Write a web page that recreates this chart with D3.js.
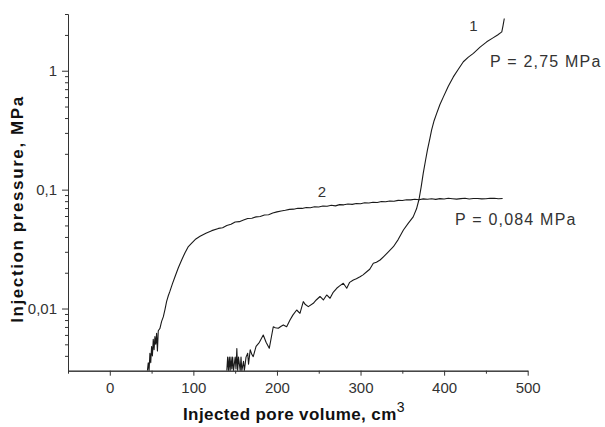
<!DOCTYPE html>
<html>
<head>
<meta charset="utf-8">
<script src="https://cdn.jsdelivr.net/npm/d3@7"></script>
<style>
  html, body { margin: 0; padding: 0; background: #fff; }
  svg { display: block; font-family: "Liberation Sans", Arial, sans-serif; }
  .tick text { fill: #333; font-size: 15px; }
  .axis path, .axis line { stroke: #333; }
</style>
</head>
<body>
<svg id="chart" width="605" height="427"></svg>
<script>
// injected volume (cm3) / injection pressure (MPa)
const curve1 = [
  [140, 0.003], [141, 0.0039], [142, 0.003], [143, 0.0039], [144, 0.003], [145, 0.0039],
  [146, 0.0031], [147, 0.0039], [148, 0.003], [150, 0.0039], [151, 0.0031], [152, 0.0046],
  [153, 0.003], [154, 0.0039], [156, 0.003], [157, 0.0039], [158, 0.003], [160, 0.0036],
  [161, 0.003], [163, 0.0039], [165, 0.0042], [166, 0.0034], [168, 0.0045], [170, 0.0041],
  [171.6, 0.00394], [175, 0.0048], [179, 0.0052], [183.6, 0.00599], [187, 0.0052],
  [190.8, 0.00463], [195.6, 0.00703], [198, 0.0069], [201.6, 0.00682], [205, 0.0071],
  [207.6, 0.00728], [211.6, 0.00703], [215.6, 0.0080], [219, 0.0088], [223.6, 0.00972],
  [227.5, 0.00912], [231.5, 0.01142], [234, 0.0108], [237.5, 0.01037], [243.5, 0.01107],
  [247, 0.0118], [251.5, 0.01263], [255.5, 0.0118], [259.5, 0.0130], [263.5, 0.0122],
  [267, 0.0136], [271.5, 0.0148], [275, 0.0155], [279.4, 0.0163], [283.5, 0.0148],
  [287, 0.0166], [291.4, 0.0174], [295, 0.0178], [299.4, 0.0185], [303, 0.0192],
  [307.4, 0.0204], [311, 0.0214], [315.3, 0.0240], [319, 0.0245], [323.4, 0.0256],
  [328, 0.0275], [333, 0.0298], [339.3, 0.0331], [345, 0.038], [351.3, 0.0458],
  [357, 0.052], [363, 0.059], [367, 0.069], [370, 0.083], [372.5, 0.105], [375, 0.137],
  [378, 0.18], [380, 0.215], [383, 0.27], [385, 0.316], [388, 0.38], [391, 0.436],
  [395, 0.52], [399, 0.60], [405, 0.74], [411, 0.887], [417, 1.03], [423, 1.19],
  [429, 1.30], [435, 1.40], [443, 1.58], [451, 1.75], [458, 1.88], [464, 2.0],
  [469, 2.12], [470.5, 2.4], [472, 2.75]
];

const curve2 = [
  [45, 0.003], [46, 0.0035], [47, 0.003], [48, 0.0042], [49, 0.0035], [50, 0.0048],
  [51, 0.004], [52, 0.0055], [53, 0.0045], [54, 0.0058], [55, 0.005], [56, 0.0062],
  [57, 0.0044], [58, 0.0065], [60, 0.0068], [62, 0.0078], [64, 0.0085], [66, 0.0098],
  [68, 0.0115], [70, 0.0128], [72, 0.014], [75, 0.0162], [78, 0.0185], [82, 0.022],
  [86, 0.0256], [90, 0.0295], [94, 0.0332], [98, 0.0355], [103, 0.0385], [108, 0.0405],
  [115, 0.043], [122, 0.0452], [130, 0.0472], [135, 0.0478], [140, 0.050], [145, 0.0512],
  [150, 0.0535], [155, 0.0538], [160, 0.0555], [165, 0.0572], [170, 0.0575], [175, 0.059],
  [180, 0.0595], [185, 0.0612], [190, 0.0615], [195, 0.0635], [200, 0.065], [205, 0.0662],
  [210, 0.067], [215, 0.0682], [220, 0.0685], [225, 0.0698], [230, 0.0695], [235, 0.0708],
  [240, 0.0705], [245, 0.0718], [250, 0.0715], [255, 0.0728], [260, 0.0725], [265, 0.0738],
  [270, 0.073], [275, 0.0748], [280, 0.0745], [285, 0.0758], [290, 0.0752], [295, 0.0765],
  [300, 0.076], [305, 0.0775], [310, 0.0772], [315, 0.0784], [320, 0.078], [325, 0.0795],
  [330, 0.079], [335, 0.0802], [340, 0.0798], [345, 0.0812], [350, 0.081], [355, 0.0822],
  [360, 0.082], [365, 0.083], [370, 0.0822], [375, 0.0836], [380, 0.083], [385, 0.0838],
  [390, 0.0828], [395, 0.084], [400, 0.0835], [405, 0.0845], [410, 0.0838], [415, 0.0832],
  [420, 0.084], [425, 0.0846], [430, 0.0835], [435, 0.0843], [440, 0.0842], [445, 0.0836],
  [450, 0.0838], [455, 0.0846], [460, 0.0845], [465, 0.0838], [470, 0.0842]
];

const xMajor = [0, 100, 200, 300, 400, 500];
const xMinor = [-50, 50, 150, 250, 350, 450];
const yMajor = [0.01, 0.1, 1];
const yMajorLabels = ["0,01", "0,1", "1"];
const yMinor = [0.004, 0.005, 0.006, 0.007, 0.008, 0.009,
  0.02, 0.03, 0.04, 0.05, 0.06, 0.07, 0.08, 0.09,
  0.2, 0.3, 0.4, 0.5, 0.6, 0.7, 0.8, 0.9, 2, 3];

const svg = d3.select("#chart");
const x = d3.scaleLinear().domain([-50, 500]).range([68, 527.7]);
const y = d3.scaleLog().domain([0.003, 3]).range([370.7, 14]);

svg.append("defs").append("clipPath").attr("id", "plot")
  .append("rect").attr("x", 68).attr("y", 0).attr("width", 470).attr("height", 370.7);

// axes: minor ticks first, then labelled majors on top
const xAxisY = y.range()[0];
svg.append("g").attr("class", "axis").attr("transform", `translate(0,${xAxisY})`)
  .call(d3.axisBottom(x).tickValues(xMinor).tickSize(3).tickSizeOuter(0).tickFormat(""));
svg.append("g").attr("class", "axis").attr("transform", `translate(0,${xAxisY})`)
  .call(d3.axisBottom(x).tickValues(xMajor).tickSize(5).tickSizeOuter(0).tickPadding(7))
  .call((g) => g.selectAll("text").attr("dy", "0.71em"));

const yAxisX = x.range()[0];
svg.append("g").attr("class", "axis").attr("transform", `translate(${yAxisX},0)`)
  .call(d3.axisLeft(y).tickValues(yMinor).tickSize(3).tickSizeOuter(0).tickFormat(""));
svg.append("g").attr("class", "axis").attr("transform", `translate(${yAxisX},0)`)
  .call(d3.axisLeft(y).tickValues(yMajor).tickSize(6).tickSizeOuter(0).tickPadding(5)
    .tickFormat((d, i) => yMajorLabels[i]));

// curves
const line = d3.line().x((d) => x(d[0])).y((d) => y(d[1]));
const plot = svg.append("g").attr("clip-path", "url(#plot)");
[curve1, curve2].forEach((c) => {
  plot.append("path").datum(c)
    .attr("d", line)
    .attr("fill", "none")
    .attr("stroke", "#1a1a1a")
    .attr("stroke-width", 1.1)
    .attr("stroke-linejoin", "round");
});

// annotations
const ann = svg.append("g").attr("fill", "#333").attr("font-size", 16);
ann.append("text").attr("x", 473.5).attr("y", 31).attr("text-anchor", "middle").attr("font-size", 15).text("1");
ann.append("text").attr("x", 322).attr("y", 197).attr("text-anchor", "middle").attr("font-size", 15).text("2");
ann.append("text").attr("x", 490).attr("y", 67).attr("letter-spacing", 1.2).text("P = 2,75 MPa");
ann.append("text").attr("x", 455).attr("y", 225).attr("letter-spacing", 1.2).text("P = 0,084 MPa");

// axis titles
const xTitle = svg.append("text").attr("x", 183).attr("y", 420)
  .attr("font-size", 17).attr("font-weight", "bold").attr("fill", "#111")
  .attr("letter-spacing", 0.4);
xTitle.append("tspan").text("Injected pore volume, cm");
xTitle.append("tspan").attr("dy", -8).attr("font-size", 14).attr("font-weight", "normal")
  .attr("letter-spacing", 0).text("3");

svg.append("text")
  .attr("transform", "translate(23,209) rotate(-90)")
  .attr("text-anchor", "middle")
  .attr("font-size", 17).attr("font-weight", "bold").attr("fill", "#111")
  .attr("letter-spacing", 1.6)
  .text("Injection pressure, MPa");
</script>
</body>
</html>
